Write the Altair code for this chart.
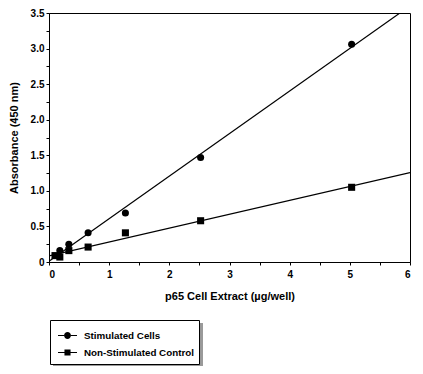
import altair as alt
import pandas as pd

series_names = ["Stimulated Cells", "Non-Stimulated Control"]
stim_x = [0.18, 0.33, 0.65, 1.27, 2.52, 5.03]
stim_y = [0.16, 0.25, 0.41, 0.69, 1.47, 3.06]
ctrl_x = [0.10, 0.18, 0.33, 0.65, 1.27, 2.52, 5.03]
ctrl_y = [0.09, 0.07, 0.16, 0.21, 0.41, 0.58, 1.05]

x_ticks = [i * 0.5 for i in range(13)]
y_ticks = [i * 0.25 for i in range(15)]

rows = [{"series": series_names[0], "x": a, "y": b} for a, b in zip(stim_x, stim_y)]
rows += [{"series": series_names[1], "x": a, "y": b} for a, b in zip(ctrl_x, ctrl_y)]
df = pd.DataFrame(rows)

FONT = "Liberation Sans"

xs = alt.Scale(domain=[0, 6], nice=False, zero=True)
ys = alt.Scale(domain=[0, 3.5], nice=False, zero=True)

x_axis = alt.Axis(
    title="p65 Cell Extract (µg/well)",
    values=x_ticks,
    labelExpr="datum.value % 1 == 0 ? format(datum.value, 'd') : ''",
    grid=False, tickSize=3, labelPadding=4, titlePadding=11, labelOverlap=False,
)
y_axis = alt.Axis(
    title="Absorbance (450 nm)",
    values=y_ticks,
    labelExpr="datum.value % 0.5 == 0 ? (datum.value == 0 ? '0' : format(datum.value, '.1f')) : ''",
    grid=False, tickSize=3, labelPadding=2, titlePadding=11, labelOverlap=False,
)

X = alt.X("x:Q", scale=xs, axis=x_axis)
Y = alt.Y("y:Q", scale=ys, axis=y_axis)

base = alt.Chart(df)

points = base.mark_point(filled=True, color="black", opacity=1, size=50).encode(
    x=X, y=Y,
    shape=alt.Shape("series:N", scale=alt.Scale(domain=series_names, range=["circle", "square"]), legend=None),
)

lines = base.transform_regression("x", "y", groupby=["series"], extent=[0, 6]).mark_line(
    color="black", strokeWidth=1.2, clip=True
).encode(x=X, y=Y, detail="series:N")

t = 0.065
circle_path = (
    f"M-1,-{t}L-0.36,-{t}L-0.36,{t}L-1,{t}Z"
    f"M0.36,-{t}L1,-{t}L1,{t}L0.36,{t}Z"
    "M0.36,0A0.36,0.36,0,1,1,-0.36,0A0.36,0.36,0,1,1,0.36,0Z"
)
square_path = (
    f"M-1,-{t}L-0.32,-{t}L-0.32,{t}L-1,{t}Z"
    f"M0.32,-{t}L1,-{t}L1,{t}L0.32,{t}Z"
    "M-0.32,-0.32L0.32,-0.32L0.32,0.32L-0.32,0.32Z"
)

shadow = alt.Chart(pd.DataFrame({"a": [0]})).mark_rect(color="#9a9a9a").encode(
    x=alt.value(4), x2=alt.value(154), y=alt.value(310), y2=alt.value(360)
)

legend_layer = base.transform_filter("false").mark_point(
    filled=True, color="black", opacity=1
).encode(
    x=X, y=Y,
    shape=alt.Shape(
        "series:N",
        scale=alt.Scale(domain=series_names, range=[circle_path, square_path]),
        legend=alt.Legend(
            title=None, orient="none", legendX=1, legendY=307,
            strokeColor="black", fillColor="white", padding=5, symbolOffset=2,
            symbolSize=361, symbolFillColor="black", symbolOpacity=1,
            labelFont=FONT, labelFontWeight="bold", labelFontSize=9.8, labelColor="black",
            labelOffset=6, rowPadding=-3,
        ),
    ),
)

chart = alt.layer(points, lines, shadow, legend_layer).resolve_scale(shape="independent").properties(
    width=361, height=249,
    autosize=alt.AutoSizeParams(type="none"),
    padding={"left": 41, "top": 5, "right": 5, "bottom": 104},
).configure_view(stroke="black", strokeWidth=1).configure_axis(
    domainColor="black", tickColor="black", labelColor="black", titleColor="black",
    labelFont=FONT, titleFont=FONT, labelFontWeight="bold", titleFontWeight="bold",
    labelFontSize=10, titleFontSize=11, labelOverlap=False,
)

chart.save("out.html", embed_options={"renderer": "svg", "actions": False})
